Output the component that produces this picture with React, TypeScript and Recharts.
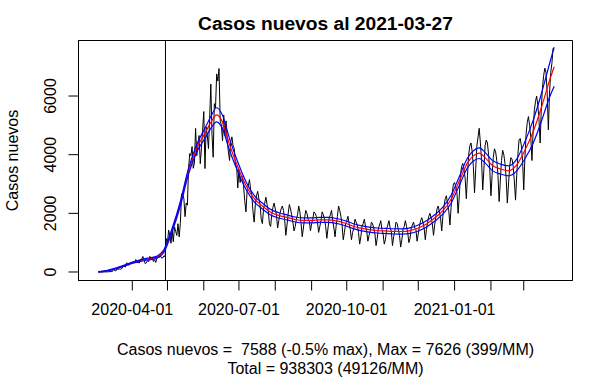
import React from 'react';
import { LineChart, Line, XAxis, YAxis, ReferenceLine, ReferenceArea } from 'recharts';

const FONT = '"Liberation Sans", Arial, Helvetica, sans-serif';

// Daily new cases, one value per day starting 2020-03-03 (day 0)
const dailyCases = [
  1, 2, 1, 1, 3, 2, 3, 4, 6, 10, 10, 18,
  14, 80, 46, 37, 104, 92, 103, 95, 114, 176, 220, 164, 304, 299, 230, 310, 289,
  293, 373, 333, 424, 310, 344, 301, 430, 426, 529, 426, 286, 312, 392, 356, 534, 445, 478, 358, 419, 325, 464, 516, 494, 552, 473, 482, 552, 520, 1138,
  985, 1427, 1228, 980, 1373, 1032, 1533, 1391, 1247, 1647, 1197, 1658, 2660, 2659, 2502, 1886, 2353, 2278, 3520, 4038, 3964, 4276, 3536, 3709, 4895, 3964, 4328, 4654, 3695, 4220, 4830,
  5471, 3527, 4942, 4664, 4207, 5246, 6405, 4696, 3913, 5737, 5596, 6754, 6509, 6938, 5143, 5013, 4475, 5355, 4648, 5153, 4472, 4092, 3804, 4443, 4608, 4296, 4216, 3624, 3613, 2867,
  3500, 3050, 3300, 3250, 2900, 2400, 2050, 2800, 2950, 3150, 2800, 2600, 2050, 1700, 2300, 2600, 2750, 2500, 2300, 1800, 1650, 2150, 2350, 2550, 2300, 2100, 1650, 1550, 1950, 2200, 2350,
  2150, 1950, 1500, 1750, 2000, 2150, 2250, 2100, 1800, 1250, 1600, 2000, 2300, 2150, 1950, 1700, 1400, 1550, 1800, 1950, 2250, 2050, 1650, 1200, 1500, 1850, 2100, 2000, 1800, 1750, 1400,
  1650, 1800, 2050, 2000, 1900, 1700, 1350, 1550, 1750, 2050, 1950, 1800, 1550, 1150, 1500, 1850, 1950, 2100, 1750, 1500, 1200, 1600, 1900, 2250, 2100, 1900, 1600, 1100, 1350, 1650,
  1750, 1900, 1650, 1450, 1100, 1350, 1500, 1800, 1700, 1600, 1350, 950, 1200, 1550, 1650, 1800, 1550, 1400, 1050, 1250, 1400, 1700, 1650, 1500, 1300, 900, 1150, 1500, 1600, 1750, 1450,
  1300, 950, 1100, 1450, 1600, 1750, 1500, 1400, 900, 1200, 1400, 1700, 1650, 1450, 1250, 850, 1100, 1450, 1550, 1750, 1550, 1350, 1000, 1150, 1500, 1600, 1700, 1500, 1450, 1050,
  1300, 1550, 1750, 1850, 1700, 1500, 1100, 1450, 1700, 1900, 2000, 1850, 1650, 1250, 1600, 1900, 2150, 2250, 2050, 1850, 1400, 1900, 2250, 2500, 2600, 2300, 2100, 1600, 2200, 2700, 3000,
  3050, 2900, 2700, 2000, 2600, 3300, 3600, 3700, 3500, 3200, 2500, 3300, 4000, 4300, 4400, 4100, 3600, 2700, 3500, 4300, 4600, 4900, 4400, 3800, 2800, 3500, 4300, 4500, 4400, 4000, 3500,
  2600, 3300, 3900, 4200, 4100, 3800, 3300, 2400, 3100, 3800, 4150, 4000, 3700, 3200, 2350, 3000, 3600, 3900, 3850, 3600, 3100, 2450, 3300, 4000, 4500, 4550, 4300, 3800,
  2800, 3900, 4700, 5100, 5300, 5000, 4600, 3800, 4800, 5500, 5800, 6000, 5700, 5200, 4400, 5600, 6300, 6700, 6950, 6800, 6100, 4850, 6100, 6800, 7100, 7626, 7588,
];

// Smoothed trend (red) and its band (blue), sampled days
const smoothDay = [0, 7, 14, 21, 28, 35, 42, 49, 56, 63, 70, 77, 84, 91, 96, 101, 106, 112, 119, 126, 133, 140, 147, 154, 161, 168, 175, 182, 189, 196, 203, 210, 217, 224, 231, 238, 245, 252, 259, 266, 273, 280, 287, 294, 301, 308, 315, 320, 325, 330, 336, 343, 350, 357, 364, 371, 378, 385, 389];
const smoothMid = [5, 40, 110, 200, 300, 380, 440, 490, 720, 1430, 2330, 3440, 4220, 4730, 5100, 5360, 5110, 4340, 3590, 2950, 2500, 2250, 2040, 1930, 1860, 1790, 1760, 1760, 1780, 1775, 1740, 1670, 1570, 1495, 1445, 1415, 1400, 1385, 1380, 1410, 1500, 1640, 1840, 2090, 2480, 3100, 3720, 3960, 4050, 3900, 3640, 3510, 3450, 3650, 4150, 4780, 5600, 6530, 7000];
const smoothHi = [15, 52, 125, 218, 320, 405, 470, 525, 765, 1490, 2410, 3540, 4350, 4900, 5300, 5600, 5340, 4540, 3750, 3080, 2610, 2350, 2135, 2020, 1945, 1875, 1845, 1845, 1865, 1860, 1825, 1755, 1655, 1580, 1530, 1500, 1488, 1475, 1472, 1505, 1600, 1745, 1950, 2210, 2615, 3250, 3885, 4135, 4230, 4080, 3815, 3680, 3620, 3850, 4440, 5170, 6070, 7100, 7670];
const smoothLo = [-5, 28, 95, 182, 280, 355, 410, 455, 675, 1370, 2250, 3340, 4090, 4560, 4900, 5120, 4880, 4140, 3430, 2820, 2390, 2150, 1945, 1840, 1775, 1705, 1675, 1675, 1695, 1690, 1655, 1585, 1485, 1410, 1360, 1330, 1312, 1295, 1288, 1315, 1400, 1535, 1730, 1970, 2345, 2950, 3555, 3785, 3870, 3720, 3465, 3340, 3280, 3450, 3860, 4390, 5130, 5960, 6330];

const monthTicks = [29, 59, 90, 120, 151, 182, 212, 243, 273, 304, 335, 363];
const monthLabels = ['2020-04-01', '', '', '2020-07-01', '', '', '2020-10-01', '', '', '2021-01-01', '', ''];
const yTicks = [0, 2000, 4000, 6000];
const markerDay = 57.3;

const titleText = 'Casos nuevos al 2021-03-27';
const yLabelText = 'Casos nuevos';
const footerLines = ['Casos nuevos =  7588 (-0.5% max), Max = 7626 (399/MM)', 'Total = 938303 (49126/MM)'];

const X_DOMAIN: [number, number] = [-16.9, 404.6];
const Y_DOMAIN: [number, number] = [-290, 7893];

const dailyData = dailyCases.map((v, i) => ({ day: i, cases: v }));
const smoothData = smoothDay.map((d, k) => ({ day: d, mid: smoothMid[k], hi: smoothHi[k], lo: smoothLo[k] }));

const XTick = (props: any) => {
  const { x, y, payload } = props;
  const idx = monthTicks.indexOf(payload.value);
  const label = idx >= 0 ? monthLabels[idx] : '';
  if (!label) return <g />;
  return (
    <text x={x} y={y} dy={22} textAnchor="middle" fontSize={16} fontFamily={FONT} fill="#000">
      {label}
    </text>
  );
};

const YTick = (props: any) => {
  const { x, y, payload } = props;
  return (
    <text
      transform={`translate(${x - 11}, ${y}) rotate(-90)`}
      textAnchor="middle"
      fontSize={16}
      fontFamily={FONT}
      fill="#000"
    >
      {String(payload.value)}
    </text>
  );
};

export default function App() {
  return (
    <div style={{ position: 'absolute', left: 0, top: 0, width: 614, height: 379, background: '#fff' }}>
      <LineChart width={614} height={379} margin={{ top: 40.5, right: 41.5, bottom: 58.5, left: 0.5 }}>
        <XAxis
          xAxisId="b"
          type="number"
          dataKey="day"
          domain={X_DOMAIN}
          allowDataOverflow
          ticks={monthTicks}
          interval={0}
          tick={<XTick />}
          tickSize={10}
          height={40}
          axisLine={{ stroke: '#000', strokeWidth: 1 }}
          tickLine={{ stroke: '#000', strokeWidth: 1 }}
        />
        <YAxis
          yAxisId="l"
          type="number"
          domain={Y_DOMAIN}
          allowDataOverflow
          ticks={yTicks}
          interval={0}
          width={78}
          tickSize={10}
          tick={<YTick />}
          axisLine={{ stroke: '#000', strokeWidth: 1 }}
          tickLine={{ stroke: '#000', strokeWidth: 1 }}
        />
        <ReferenceArea
          xAxisId="b"
          yAxisId="l"
          x1={X_DOMAIN[0]}
          x2={X_DOMAIN[1]}
          y1={Y_DOMAIN[0]}
          y2={Y_DOMAIN[1]}
          fill="none"
          fillOpacity={0}
          stroke="#000"
          strokeWidth={1}
          strokeOpacity={1}
          ifOverflow="visible"
        />
        <ReferenceLine xAxisId="b" yAxisId="l" x={markerDay} stroke="#000" strokeWidth={1} />
        <Line
          xAxisId="b"
          yAxisId="l"
          data={dailyData}
          dataKey="cases"
          type="linear"
          stroke="#000"
          strokeWidth={1}
          dot={false}
          activeDot={false}
          isAnimationActive={false}
        />
        <Line
          xAxisId="b"
          yAxisId="l"
          data={smoothData}
          dataKey="mid"
          type="monotone"
          stroke="#ff0000"
          strokeWidth={1.2}
          dot={false}
          activeDot={false}
          isAnimationActive={false}
        />
        <Line
          xAxisId="b"
          yAxisId="l"
          data={smoothData}
          dataKey="hi"
          type="monotone"
          stroke="#0000ff"
          strokeWidth={1.2}
          dot={false}
          activeDot={false}
          isAnimationActive={false}
        />
        <Line
          xAxisId="b"
          yAxisId="l"
          data={smoothData}
          dataKey="lo"
          type="monotone"
          stroke="#0000ff"
          strokeWidth={1.2}
          dot={false}
          activeDot={false}
          isAnimationActive={false}
        />
      </LineChart>
      <svg
        width={614}
        height={379}
        style={{ position: 'absolute', left: 0, top: 0, pointerEvents: 'none' }}
      >
        <text x={325.5} y={30} textAnchor="middle" fontSize={19.2} fontWeight="bold" fontFamily={FONT} fill="#000">
          {titleText}
        </text>
        <text
          transform="translate(17.5, 160.5) rotate(-90)"
          textAnchor="middle"
          fontSize={16}
          fontFamily={FONT}
          fill="#000"
        >
          {yLabelText}
        </text>
        {footerLines.map((line, k) => (
          <text
            key={k}
            x={325.5}
            y={355 + k * 19.2}
            textAnchor="middle"
            fontSize={16}
            fontFamily={FONT}
            fill="#000"
            style={{ whiteSpace: 'pre' }}
          >
            {line}
          </text>
        ))}
      </svg>
    </div>
  );
}
